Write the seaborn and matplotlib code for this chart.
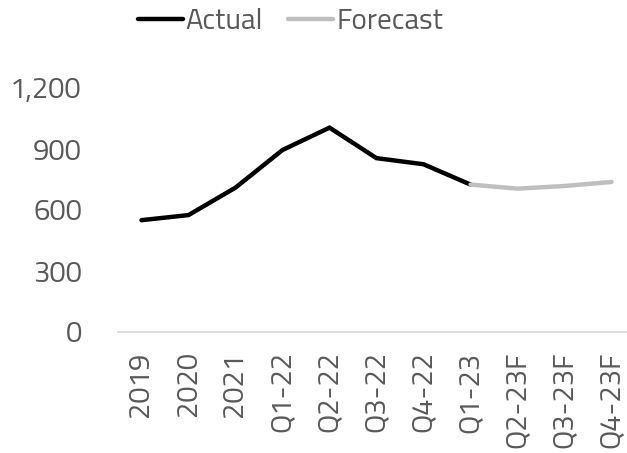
import matplotlib
matplotlib.use("Agg")
import matplotlib.pyplot as plt
import numpy as np
import pandas as pd
import seaborn as sns

#%% Data
periods = ['2019', '2020', '2021', 'Q1-22', 'Q2-22', 'Q3-22', 'Q4-22',
           'Q1-23', 'Q2-23F', 'Q3-23F', 'Q4-23F']
actual = [550, 575, 710, 895, 1005, 855, 825, 725, np.nan, np.nan, np.nan]
forecast = [np.nan, np.nan, np.nan, np.nan, np.nan, np.nan, np.nan,
            725, 705, 718, 738]
y_ticks = [0, 300, 600, 900, 1200]

df = pd.DataFrame({'period': periods * 2,
                   'value': actual + forecast,
                   'series': ['Actual'] * len(periods) + ['Forecast'] * len(periods)})
df['pos'] = list(range(len(periods))) * 2
df = df.dropna()

#%% Figure
sns.set_style("white")
plt.rcParams['font.family'] = ['Titillium Web', 'DejaVu Sans']
text_color = '#595959'
fs = 21

fig = plt.figure(figsize=(6.27, 4.53), dpi=100)
ax = fig.add_axes([118 / 627, 1 - 332 / 453, 517 / 627, (332 - 88) / 453])

sns.lineplot(data=df, x='pos', y='value', hue='series',
             palette={'Actual': '#000000', 'Forecast': '#BFBFBF'},
             linewidth=3.2, ax=ax, legend=False)
for line in ax.lines:
    line.set_solid_capstyle('round')
    line.set_solid_joinstyle('miter')
    line.set_clip_on(False)

ax.set_xlim(-0.5, len(periods) - 0.5)
ax.set_ylim(0, 1200)
ax.set_xticks(range(len(periods)))
ax.set_xticklabels(periods, rotation=90, fontsize=fs, color=text_color)
ax.set_yticks(y_ticks)
ax.set_yticklabels([f'{v:,}' for v in y_ticks], fontsize=fs, color=text_color)
ax.tick_params(axis='both', length=0)
ax.tick_params(axis='y', pad=26)
ax.tick_params(axis='x', pad=14)
ax.set_xlabel('')
ax.set_ylabel('')

for side in ['top', 'right', 'left']:
    ax.spines[side].set_visible(False)
ax.spines['bottom'].set_color('#D9D9D9')
ax.spines['bottom'].set_linewidth(1.2)

handles = [plt.Line2D([], [], color='#000000', linewidth=3.2, solid_capstyle='round'),
           plt.Line2D([], [], color='#BFBFBF', linewidth=3.2, solid_capstyle='round')]
fig.legend(handles, ['Actual', 'Forecast'], loc='center', bbox_to_anchor=(0.463, 1 - 22 / 453),
           ncol=2, frameon=False, fontsize=fs, labelcolor=text_color,
           handlelength=1.55, handletextpad=0.1, columnspacing=0.85)

fig.savefig('out.png', dpi=100)
